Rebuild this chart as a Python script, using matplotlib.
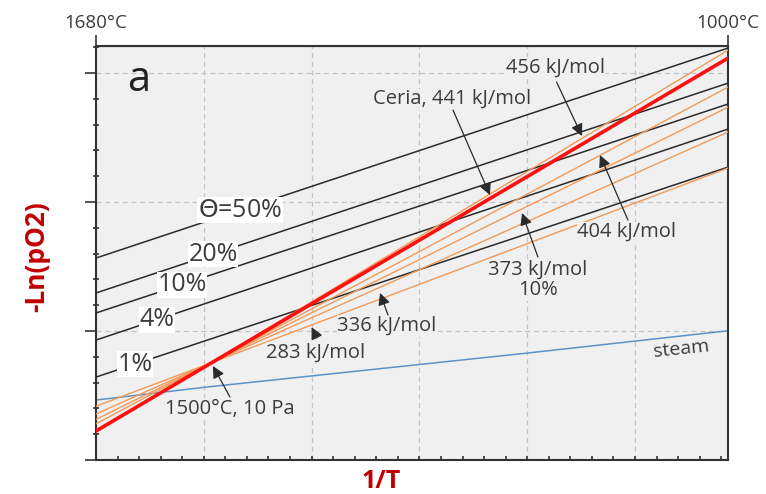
import numpy as np
import matplotlib
matplotlib.use("Agg")
import matplotlib.pyplot as plt
from matplotlib.ticker import MultipleLocator

plt.rcParams['font.family'] = ['Open Sans', 'DejaVu Sans']

# x axis: 1/T in arbitrary units, 1680 C on the left, 1000 C on the right
x_ends = [0.0, 5.863]
top_labels = ['1680°C', '1000°C']

# iso-conversion lines (black), -Ln(pO2) at both ends
theta_names = ['$\\mathit{\\Theta}$=50%', '20%', '10%', '4%', '1%']
theta_left = [1.566, 1.295, 1.140, 0.930, 0.643]
theta_right = [3.194, 2.922, 2.760, 2.566, 2.271]
theta_label_x = [1.336, 1.085, 0.798, 0.566, 0.362]

# enthalpy lines (orange), all through 1500 C / 10 Pa
enth_names = ['456 kJ/mol', '404 kJ/mol', '373 kJ/mol\n10%', '336 kJ/mol', '283 kJ/mol']
enth_left = [0.215, 0.281, 0.315, 0.357, 0.417]
enth_right = [3.178, 2.891, 2.736, 2.543, 2.264]

# ceria (red)
ceria_left = 0.225
ceria_right = 3.116

# steam line (blue)
steam_x = [0.0, 1.03, 4.0, 5.863]
steam_y = [0.465, 0.566, 0.829, 1.002]

txt = '#3c3c3c'
red_lbl = '#c00000'

fig = plt.figure(figsize=(7.66, 4.94), dpi=100)
ax = fig.add_axes([96 / 766, 1 - 460 / 494, 632 / 766, 414 / 494])
ax.set_facecolor('#f0f0f0')
ax.set_xlim(x_ends)
ax.set_ylim(0, 3.21)

ax.grid(True, which='major', color='#c4c4c4', linestyle=(0, (4, 3)), lw=0.9)
ax.set_axisbelow(True)

ax.plot(steam_x, steam_y, color='#5b92c8', lw=1.1, zorder=2)
for yl, yr in zip(theta_left, theta_right):
    ax.plot(x_ends, [yl, yr], color='#2a2a2a', lw=1.1, zorder=3)
for yl, yr in zip(enth_left, enth_right):
    ax.plot(x_ends, [yl, yr], color='#f09a58', lw=1.0, zorder=4)
ax.plot(x_ends, [ceria_left, ceria_right], color='#ff1010', lw=2.6, zorder=5)

# theta labels sit on their own lines
for name, lx, yl, yr in zip(theta_names, theta_label_x, theta_left, theta_right):
    ly = np.interp(lx, x_ends, [yl, yr])
    ax.text(lx, ly, name, fontsize=18, color=txt, ha='center', va='center', zorder=6,
            bbox=dict(fc='white', ec='none', pad=0.3))

ax.text(0.399, 2.946, 'a', fontsize=30, color='#222222', ha='center', va='center')

bg_box = dict(fc='#f0f0f0', ec='none', pad=0.5)
labels = [
    ('456 kJ/mol', 4.267, 3.039, (4.273, 2.930), (4.508, 2.512)),
    ('Ceria, 441 kJ/mol', 3.302, 2.798, (3.312, 2.713), (3.655, 2.054)),
    ('404 kJ/mol', 4.926, 1.767, (4.935, 1.860), (4.675, 2.364)),
    ('373 kJ/mol\n10%', 4.100, 1.395, (4.100, 1.574), (3.952, 1.915)),
    ('336 kJ/mol', 2.699, 1.039, (2.709, 1.124), (2.635, 1.295)),
    ('283 kJ/mol', 2.041, 0.829, (2.050, 0.946), (2.000, 1.030)),
    ('1500°C, 10 Pa', 1.243, 0.395, (1.243, 0.488), (1.085, 0.729)),
]
for s, tx, ty, tail, head in labels:
    ax.text(tx, ty, s, fontsize=14.5, color=txt, ha='center', va='center', zorder=6,
            linespacing=1.05, bbox=bg_box)
    ax.annotate('', xy=head, xytext=tail, zorder=7,
                arrowprops=dict(arrowstyle='-|>', color='#2a2a2a', lw=0.9,
                                mutation_scale=18, shrinkA=0, shrinkB=0))

ax.text(5.427, 0.860, 'steam', fontsize=14, color=txt, ha='center', va='center', rotation=6)

# ticks
ax.xaxis.set_major_locator(MultipleLocator(1))
ax.xaxis.set_minor_locator(MultipleLocator(0.2))
ax.yaxis.set_major_locator(MultipleLocator(1))
ax.yaxis.set_minor_locator(MultipleLocator(0.2))
ax.tick_params(axis='x', which='both', direction='in', length=3, width=1.2, color='#333333',
               labelbottom=False)
ax.tick_params(axis='y', which='major', direction='out', length=8, width=1.2, color='#333333',
               labelleft=False)
ax.tick_params(axis='y', which='minor', direction='inout', length=5, width=1.2, color='#333333')

for sp in ax.spines.values():
    sp.set_color('#333333')
    sp.set_linewidth(1.5)

top = ax.secondary_xaxis('top')
top.set_xticks(x_ends)
top.set_xticklabels(top_labels, fontsize=13.5, color=txt)
top.tick_params(direction='out', length=8, width=1.2, color='#333333', pad=2)
top.xaxis.set_minor_locator(plt.NullLocator())

fig.text(37 / 766, 1 - 257 / 494, '-Ln(pO2)', rotation=90, fontsize=19, fontweight='bold',
         color=red_lbl, ha='center', va='center')
fig.text(381 / 766, 1 - 481 / 494, '1/T', fontsize=18, fontweight='bold',
         color=red_lbl, ha='center', va='center')

fig.savefig('out.png', dpi=100)
